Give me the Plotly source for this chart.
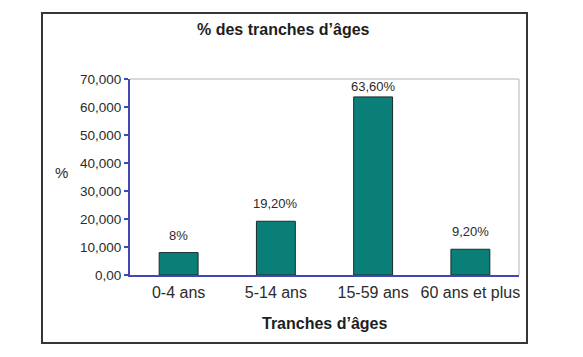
import plotly.graph_objects as go

categories = ["0-4 ans", "5-14 ans", "15-59 ans", "60 ans et plus"]
values = [8.0, 19.2, 63.6, 9.2]
value_labels = ["8%", "19,20%", "63,60%", "9,20%"]
y_tickvals = [0, 10, 20, 30, 40, 50, 60, 70]
y_ticktext = ["0,00", "10,000", "20,000", "30,000", "40,000", "50,000", "60,000", "70,000"]

FONT = "Liberation Sans, Arial, sans-serif"
AXIS_BLUE = "#4347b3"
TEXT = "#2b2b2b"

# page is offset by the default 8px body margin
OFF = 8
PAGE_W, PAGE_H = 583, 357
W, H = PAGE_W - 2 * OFF, PAGE_H - 2 * OFF
# plot area in page pixels
PL, PR, PT, PB = 130, 519, 79, 275
L, T = PL - OFF, PT - OFF
R = W - (PR - OFF)
B = H - (PB - OFF)
pw, ph = PR - PL, PB - PT

def px_x(px):
    return (px - PL) / pw

def px_y(py):
    return (PB - py) / ph

fig = go.Figure()
fig.add_trace(go.Bar(
    x=categories, y=values, width=0.4,
    marker=dict(color="#0a7f78", line=dict(color="#1c2b2e", width=1)),
    hoverinfo="skip",
))

annotations = []
for c, v, lab in zip(categories, values, value_labels):
    annotations.append(dict(
        x=c, y=v, xref="x", yref="y", text=lab, showarrow=False,
        xanchor="center", yanchor="bottom", yshift=8 if v < 50 else 1,
        font=dict(family=FONT, size=13, color=TEXT),
    ))

annotations += [
    dict(x=px_x(283), y=px_y(29), xref="paper", yref="paper",
         xanchor="center", yanchor="middle",
         text="<b>% des tranches d’âges</b>", showarrow=False,
         font=dict(family=FONT, size=16, color="#1e1e1e")),
    dict(x=px_x(324), y=px_y(323), xref="paper", yref="paper",
         xanchor="center", yanchor="middle",
         text="<b>Tranches d’âges</b>", showarrow=False,
         font=dict(family=FONT, size=16, color="#1e1e1e")),
    dict(x=px_x(61), y=px_y(172), xref="paper", yref="paper",
         xanchor="center", yanchor="middle",
         text="%", showarrow=False,
         font=dict(family=FONT, size=15, color=TEXT)),
]

shapes = [
    # outer frame
    dict(type="rect", xref="paper", yref="paper",
         x0=px_x(42), x1=px_x(527), y0=px_y(343), y1=px_y(13),
         line=dict(color="#3b3434", width=2), layer="below"),
    # plot area top/right border
    dict(type="line", xref="paper", yref="paper", x0=0, x1=1, y0=1, y1=1,
         line=dict(color="#b4b4b4", width=1)),
    dict(type="line", xref="paper", yref="paper", x0=1, x1=1, y0=0, y1=1,
         line=dict(color="#b4b4b4", width=1)),
]

fig.update_layout(
    width=W, height=H, autosize=False,
    margin=dict(l=L, r=R, t=T, b=B, pad=0),
    paper_bgcolor="white", plot_bgcolor="white",
    showlegend=False,
    annotations=annotations, shapes=shapes,
    xaxis=dict(
        type="category", showgrid=False, zeroline=False,
        showline=True, linecolor=AXIS_BLUE, linewidth=2,
        ticks="", tickfont=dict(family=FONT, size=16, color=TEXT),
        ticklabelstandoff=2,
        fixedrange=True,
    ),
    yaxis=dict(
        range=[0, 70], tickvals=y_tickvals, ticktext=y_ticktext,
        showgrid=False, zeroline=False,
        showline=True, linecolor=AXIS_BLUE, linewidth=2,
        ticks="outside", ticklen=4, tickcolor=AXIS_BLUE, tickwidth=2,
        tickfont=dict(family=FONT, size=13.5, color=TEXT),
        fixedrange=True,
    ),
)

fig.write_html("out.html", config={"displayModeBar": False})
